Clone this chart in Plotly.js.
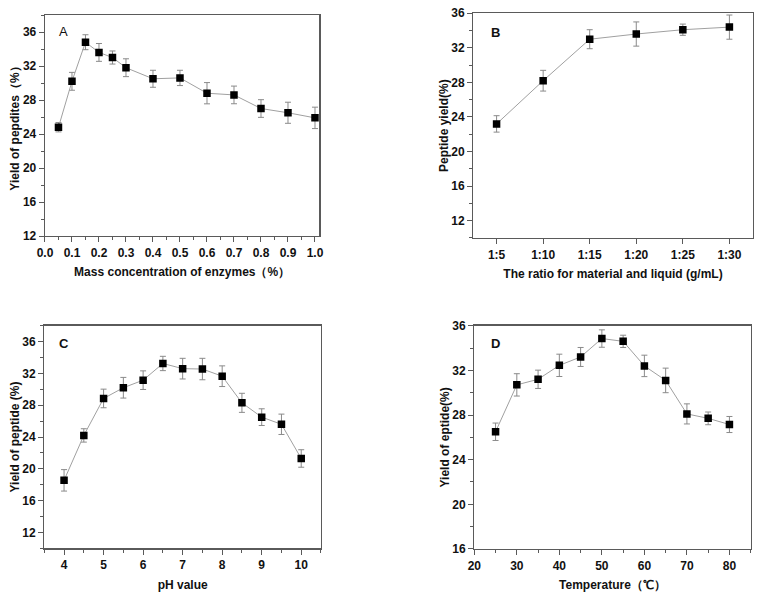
<!DOCTYPE html>
<html>
<head>
<meta charset="utf-8">
<script src="https://cdn.plot.ly/plotly-3.0.1.min.js"></script>
<style>html,body{margin:0;padding:0;background:#fff;}#chart{width:765px;height:596px;}</style>
</head>
<body>
<div id="chart"></div>
<script>
// Panel A: enzyme mass concentration
var enzymeConc = [0.05, 0.1, 0.15, 0.2, 0.25, 0.3, 0.4, 0.5, 0.6, 0.7, 0.8, 0.9, 1.0];
var enzymeYield = [24.8, 30.2, 34.8, 33.6, 33.0, 31.8, 30.5, 30.6, 28.8, 28.6, 27.0, 26.5, 25.9];
var enzymeErr = [0.55, 1.05, 0.88, 1.05, 0.77, 1.05, 1.0, 0.9, 1.25, 1.04, 1.04, 1.24, 1.26];

// Panel B: material / liquid ratio
var ratioLabels = ['1:5', '1:10', '1:15', '1:20', '1:25', '1:30'];
var ratioYield = [23.2, 28.2, 33.0, 33.6, 34.1, 34.4];
var ratioErr = [0.95, 1.2, 1.1, 1.4, 0.65, 1.4];

// Panel C: pH
var phValues = [4, 4.5, 5, 5.5, 6, 6.5, 7, 7.5, 8, 8.5, 9, 9.5, 10];
var phYield = [18.55, 24.2, 28.85, 30.2, 31.15, 33.25, 32.6, 32.55, 31.65, 28.3, 26.5, 25.6, 21.3];
var phErr = [1.35, 0.84, 1.17, 1.3, 1.17, 0.9, 1.3, 1.35, 1.3, 1.2, 1.05, 1.28, 1.1];

// Panel D: temperature
var tempValues = [25, 30, 35, 40, 45, 50, 55, 60, 65, 70, 75, 80];
var tempYield = [26.5, 30.7, 31.2, 32.45, 33.2, 34.85, 34.6, 32.4, 31.1, 28.1, 27.7, 27.15];
var tempErr = [0.78, 1.0, 0.82, 1.0, 0.85, 0.78, 0.55, 0.96, 1.1, 0.9, 0.57, 0.72];

var FONT = 'Liberation Sans, Arial, sans-serif';
var AXC = '#5a5a5a';
var TITLE_FONT = {family: FONT, size: 12, color: '#111', weight: 'bold'};

function trace(x, y, e, xa, ya) {
  return {
    x: x, y: y, xaxis: xa, yaxis: ya, type: 'scatter', mode: 'lines+markers',
    line: {color: '#a0a0a0', width: 1},
    marker: {symbol: 'square', size: 7.5, color: '#000'},
    error_y: {type: 'data', array: e, visible: true, color: '#8a8a8a', thickness: 1, width: 3},
    showlegend: false, hoverinfo: 'x+y'
  };
}

function ax(domain, anchor, opts) {
  var a = {
    domain: domain, anchor: anchor, showline: true, mirror: true, linecolor: AXC, linewidth: 1.3,
    showgrid: false, zeroline: false, ticks: 'outside', ticklen: 5, tickwidth: 1, tickcolor: AXC,
    tickfont: {family: FONT, size: 12, color: '#111', weight: 'bold'}
  };
  for (var k in opts) a[k] = opts[k];
  return a;
}

var data = [
  trace(enzymeConc, enzymeYield, enzymeErr, 'x', 'y'),
  trace(ratioLabels, ratioYield, ratioErr, 'x2', 'y2'),
  trace(phValues, phYield, phErr, 'x3', 'y3'),
  trace(tempValues, tempYield, tempErr, 'x4', 'y4')
];

var minorT = function (d) { return {dtick: d, ticks: 'outside', ticklen: 3, tickcolor: AXC, showgrid: false}; };

var layout = {
  width: 765, height: 596,
  margin: {l: 0, r: 0, t: 0, b: 0},
  paper_bgcolor: '#fff', plot_bgcolor: '#fff',
  xaxis: ax([0.0588, 0.4174], 'y', {range: [0, 1.016], dtick: 0.1, tick0: 0, tickformat: '.1f', minor: minorT(0.05),
    title: {text: 'Mass concentration of enzymes（%）', font: TITLE_FONT, standoff: 9}}),
  yaxis: ax([0.604, 0.9748], 'x', {range: [12, 38], dtick: 4, tick0: 12, minor: minorT(2),
    title: {text: 'Yield of pepdites（%）', font: TITLE_FONT, standoff: 0}}),
  xaxis2: ax([0.6187, 0.9839], 'y2', {type: 'category', range: [-0.5, 5.5],
    title: {text: 'The ratio for material and liquid (g/mL)', font: TITLE_FONT, standoff: 9}}),
  yaxis2: ax([0.6007, 0.9777], 'x2', {range: [10, 36], dtick: 4, tick0: 12, minor: minorT(2),
    title: {text: 'Peptide yield(%)', font: TITLE_FONT, standoff: 0}}),
  xaxis3: ax([0.0579, 0.4196], 'y3', {range: [3.5, 10.5], dtick: 1, tick0: 4, minor: minorT(0.5),
    title: {text: 'pH value', font: TITLE_FONT, standoff: 9}}),
  yaxis3: ax([0.08, 0.4535], 'x3', {range: [10, 38], dtick: 4, tick0: 12, minor: minorT(2),
    title: {text: 'Yield of peptide (%)', font: TITLE_FONT, standoff: 0}}),
  xaxis4: ax([0.62, 0.9813], 'y4', {range: [20, 85], dtick: 10, tick0: 20, minor: minorT(5),
    title: {text: 'Temperature（℃）', font: TITLE_FONT, standoff: 9}}),
  yaxis4: ax([0.0789, 0.4535], 'x4', {range: [16, 36], dtick: 4, tick0: 16, minor: minorT(2),
    title: {text: 'Yield of eptide(%)', font: TITLE_FONT, standoff: 0}}),
  annotations: [
    {text: 'A', xref: 'paper', yref: 'paper', x: 57/765, y: 1 - 31/596, xanchor: 'left', yanchor: 'middle', showarrow: false, font: {family: FONT, size: 13, color: '#111'}},
    {text: 'B', xref: 'paper', yref: 'paper', x: 489/765, y: 1 - 32/596, xanchor: 'left', yanchor: 'middle', showarrow: false, font: {family: FONT, size: 13, color: '#111', weight: 'bold'}},
    {text: 'C', xref: 'paper', yref: 'paper', x: 57/765, y: 1 - 343/596, xanchor: 'left', yanchor: 'middle', showarrow: false, font: {family: FONT, size: 13, color: '#111', weight: 'bold'}},
    {text: 'D', xref: 'paper', yref: 'paper', x: 489/765, y: 1 - 343/596, xanchor: 'left', yanchor: 'middle', showarrow: false, font: {family: FONT, size: 13, color: '#111', weight: 'bold'}}
  ]
};

Plotly.newPlot('chart', data, layout, {displayModeBar: false, staticPlot: true});
</script>
</body>
</html>
